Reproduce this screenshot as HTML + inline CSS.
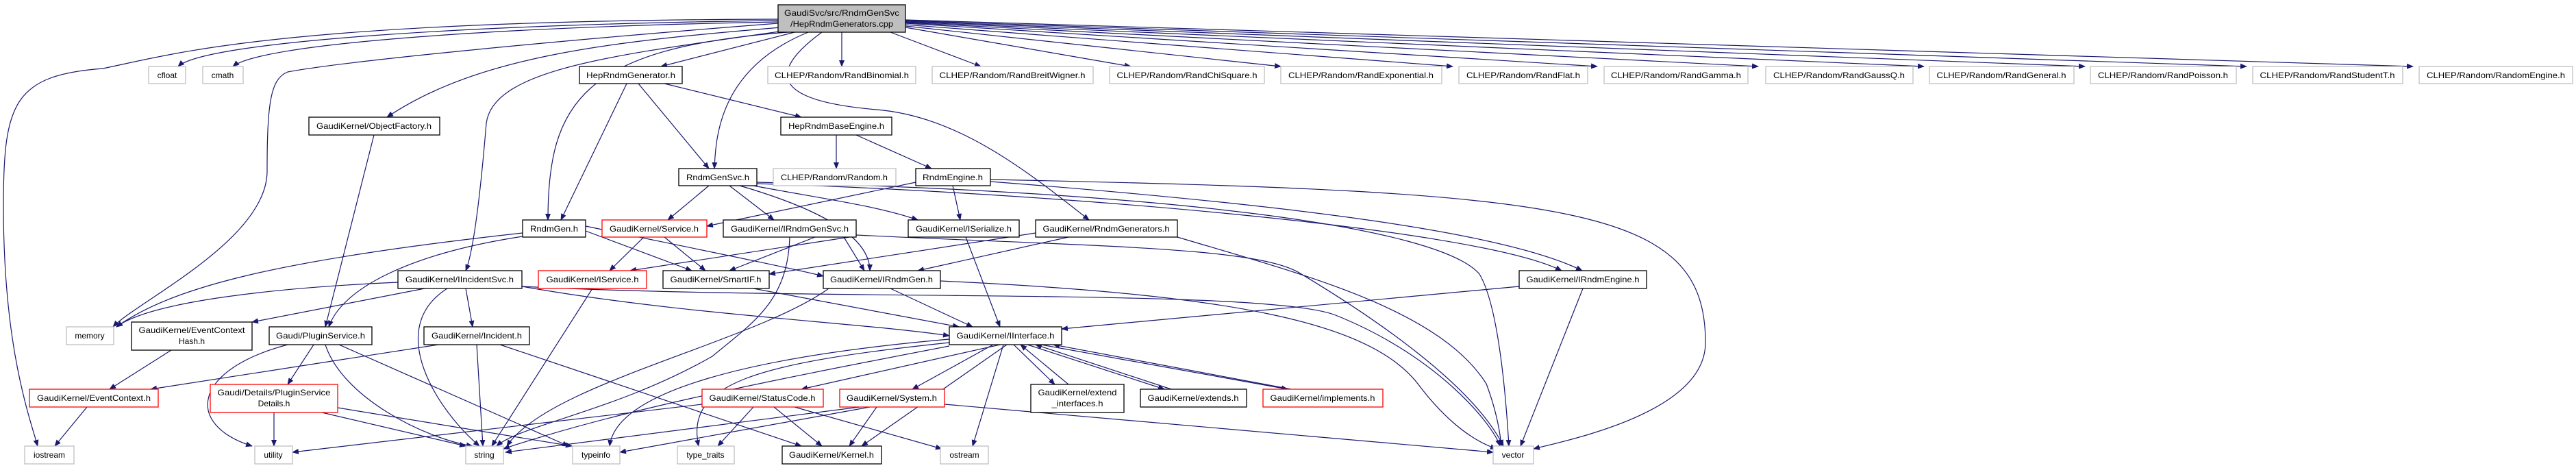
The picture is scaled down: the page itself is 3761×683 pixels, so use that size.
<!DOCTYPE html>
<html><head><meta charset="utf-8"><style>
html,body{margin:0;padding:0;background:#fff;}
svg{display:block;}
text{font-family:"Liberation Sans",sans-serif;font-size:12px;fill:#000;}
.e{fill:none;stroke:#191970;stroke-width:1.2;}
.g{fill:#fff;stroke:#bfbfbf;stroke-width:1.3;}
.b{fill:#fff;stroke:#000;stroke-width:1.3;}
.r{fill:#fff;stroke:#ff0000;stroke-width:1.3;}
</style></head><body>
<svg width="3761" height="683" viewBox="0 0 3761 683" xmlns="http://www.w3.org/2000/svg">
<defs><marker id="a" markerWidth="10" markerHeight="8" refX="9" refY="4" orient="auto" markerUnits="userSpaceOnUse"><path d="M0,0 L10,4 L0,8 z" fill="#191970"/></marker></defs>
<g class="e" marker-end="url(#a)">
<path d="M1136 28 C400 30,250 80,150 100 C20 110,5 150,5 300 C5 500,40 600,55 651"/>
<path d="M1136 30 C700 35,300 60,260 97"/>
<path d="M1136 32 C700 40,380 65,340 97"/>
<path d="M1136 34 C800 60,500 90,420 105 C395 115,390 150,390 250 C390 350,200 440,165 477"/>
<path d="M1140 40 C900 60,700 80,565 171"/>
<path d="M1160 47 L965 97"/>
<path d="M1145 45 C900 80,720 100,710 180 C700 300,690 370,680 395"/>
<path d="M1150 47 C850 70,800 150,800 321"/>
<path d="M1180 47 C1050 100,1045 200,1043 246"/>
<path d="M1229 47 L1229 97"/>
<path d="M1300 47 L1432 97"/>
<path d="M1322 40 L1651 97"/>
<path d="M1322 38 L1870 97"/>
<path d="M1322 36 L2121 97"/>
<path d="M1322 34 L2332 97"/>
<path d="M1322 33 L2567 97"/>
<path d="M1322 32 L2809 97"/>
<path d="M1322 31 L3044 97"/>
<path d="M1322 30 L3280 97"/>
<path d="M1322 29 L3523 97"/>
<path d="M1200 47 C1100 120,1160 150,1280 160 C1400 170,1500 250,1590 321"/>
<path d="M1446 262 C2300 280,2490 300,2490 500 C2490 600,2300 640,2239 655"/>
<path d="M915 122 L819 321"/>
<path d="M932 122 L1035 246"/>
<path d="M970 122 L1170 171"/>
<path d="M1221 197 L1221 246"/>
<path d="M1250 197 L1360 246"/>
<path d="M1035 271 L975 321"/>
<path d="M1065 271 L1130 321"/>
<path d="M1100 271 C1200 290,1280 300,1340 321"/>
<path d="M1080 271 C1180 300,1270 340,1270 395"/>
<path d="M1105 268 C1500 280,2150 330,2280 395"/>
<path d="M1105 266 C1700 280,2100 330,2160 400 C2190 450,2200 600,2203 651"/>
<path d="M1337 266 L1032 330"/>
<path d="M1391 271 L1402 321"/>
<path d="M1446 265 C1900 300,2200 340,2310 395"/>
<path d="M763 340 C400 380,250 420,170 477"/>
<path d="M855 337 L1010 395"/>
<path d="M855 330 C1000 360,1150 390,1202 403"/>
<path d="M763 345 C600 370,500 420,480 477"/>
<path d="M940 346 L890 395"/>
<path d="M970 346 L1030 395"/>
<path d="M1240 346 L920 395"/>
<path d="M1190 346 L1065 395"/>
<path d="M1232 346 L1262 395"/>
<path d="M1153 346 C1150 440,1100 470,1040 520 C900 600,760 620,725 651"/>
<path d="M1250 343 C1600 360,1840 360,1900 400 C2000 460,2150 560,2195 651"/>
<path d="M1512 340 L1123 400"/>
<path d="M1560 346 L1340 395"/>
<path d="M1719 346 C1900 400,2100 450,2170 560 C2185 600,2190 630,2192 651"/>
<path d="M1410 346 L1460 477"/>
<path d="M1300 421 L1420 477"/>
<path d="M1373 410 C1800 430,2000 470,2070 560 C2100 600,2140 640,2185 655"/>
<path d="M1210 421 C1100 500,800 560,740 651"/>
<path d="M2218 418 L1550 480"/>
<path d="M2311 421 L2220 651"/>
<path d="M581 412 C400 420,220 440,170 477"/>
<path d="M620 421 L368 470"/>
<path d="M680 421 L690 477"/>
<path d="M653 421 C560 480,640 600,700 651"/>
<path d="M762 418 C1000 460,1250 470,1386 490"/>
<path d="M762 418 C1200 440,1850 420,1950 460 C2100 520,2180 620,2190 651"/>
<path d="M865 421 L718 651"/>
<path d="M1100 421 L1400 477"/>
<path d="M546 197 L475 477"/>
<path d="M250 511 L160 568"/>
<path d="M420 503 C280 540,270 620,368 651"/>
<path d="M458 503 L420 561"/>
<path d="M475 503 C500 580,620 640,690 651"/>
<path d="M495 503 L830 651"/>
<path d="M400 602 L400 651"/>
<path d="M470 602 L680 651"/>
<path d="M493 595 L835 651"/>
<path d="M640 503 L220 568"/>
<path d="M696 503 L705 651"/>
<path d="M730 503 L1170 651"/>
<path d="M127 594 L80 651"/>
<path d="M1460 503 L1170 568"/>
<path d="M1450 503 L1332 568"/>
<path d="M1480 503 L1540 561"/>
<path d="M1500 503 L1700 568"/>
<path d="M1520 503 L1880 568"/>
<path d="M1470 503 L1258 651"/>
<path d="M1386 495 C1100 520,900 570,890 651"/>
<path d="M1386 500 C1100 530,1000 560,1020 651"/>
<path d="M1386 505 C1100 560,900 600,735 655"/>
<path d="M1465 503 L1420 651"/>
<path d="M1560 561 L1490 503"/>
<path d="M1710 568 L1512 503"/>
<path d="M1885 568 L1538 503"/>
<path d="M1025 590 L427 660"/>
<path d="M1100 594 L1048 651"/>
<path d="M1130 594 L1200 651"/>
<path d="M1160 594 L1375 655"/>
<path d="M1255 594 L738 660"/>
<path d="M1270 594 L905 660"/>
<path d="M1280 594 L1240 651"/>
<path d="M1379 590 L2180 660"/>
</g>
<g>
<rect x="1136" y="7" width="186" height="40" fill="#bfbfbf" stroke="#000" stroke-width="1.3"/>
<text x="1229" y="23" text-anchor="middle" textLength="168" lengthAdjust="spacingAndGlyphs">GaudiSvc/src/RndmGenSvc</text>
<text x="1229" y="39" text-anchor="middle" textLength="150" lengthAdjust="spacingAndGlyphs">/HepRndmGenerators.cpp</text>
</g>
<g>
<rect class="g" x="217" y="97" width="54" height="25"/><text x="244" y="114" text-anchor="middle">cfloat</text>
<rect class="g" x="296" y="97" width="59" height="25"/><text x="325" y="114" text-anchor="middle">cmath</text>
<rect class="b" x="846" y="97" width="150" height="25"/><text x="921" y="114" text-anchor="middle" textLength="130" lengthAdjust="spacingAndGlyphs">HepRndmGenerator.h</text>
<rect class="g" x="1121" y="97" width="216" height="25"/><text x="1229" y="114" text-anchor="middle" textLength="196" lengthAdjust="spacingAndGlyphs">CLHEP/Random/RandBinomial.h</text>
<rect class="g" x="1361" y="97" width="235" height="25"/><text x="1478" y="114" text-anchor="middle" textLength="213" lengthAdjust="spacingAndGlyphs">CLHEP/Random/RandBreitWigner.h</text>
<rect class="g" x="1620" y="97" width="226" height="25"/><text x="1733" y="114" text-anchor="middle" textLength="205" lengthAdjust="spacingAndGlyphs">CLHEP/Random/RandChiSquare.h</text>
<rect class="g" x="1870" y="97" width="235" height="25"/><text x="1987" y="114" text-anchor="middle" textLength="212" lengthAdjust="spacingAndGlyphs">CLHEP/Random/RandExponential.h</text>
<rect class="g" x="2130" y="97" width="188" height="25"/><text x="2224" y="114" text-anchor="middle" textLength="166" lengthAdjust="spacingAndGlyphs">CLHEP/Random/RandFlat.h</text>
<rect class="g" x="2342" y="97" width="210" height="25"/><text x="2447" y="114" text-anchor="middle" textLength="190" lengthAdjust="spacingAndGlyphs">CLHEP/Random/RandGamma.h</text>
<rect class="g" x="2578" y="97" width="215" height="25"/><text x="2685" y="114" text-anchor="middle" textLength="192" lengthAdjust="spacingAndGlyphs">CLHEP/Random/RandGaussQ.h</text>
<rect class="g" x="2817" y="97" width="211" height="25"/><text x="2922" y="114" text-anchor="middle" textLength="189" lengthAdjust="spacingAndGlyphs">CLHEP/Random/RandGeneral.h</text>
<rect class="g" x="3052" y="97" width="213" height="25"/><text x="3158" y="114" text-anchor="middle" textLength="190" lengthAdjust="spacingAndGlyphs">CLHEP/Random/RandPoisson.h</text>
<rect class="g" x="3289" y="97" width="219" height="25"/><text x="3398" y="114" text-anchor="middle" textLength="197" lengthAdjust="spacingAndGlyphs">CLHEP/Random/RandStudentT.h</text>
<rect class="g" x="3532" y="97" width="224" height="25"/><text x="3644" y="114" text-anchor="middle" textLength="202" lengthAdjust="spacingAndGlyphs">CLHEP/Random/RandomEngine.h</text>
<rect class="b" x="451" y="171" width="191" height="26"/><text x="546" y="188" text-anchor="middle" textLength="168" lengthAdjust="spacingAndGlyphs">GaudiKernel/ObjectFactory.h</text>
<rect class="b" x="1140" y="171" width="162" height="26"/><text x="1221" y="188" text-anchor="middle" textLength="140" lengthAdjust="spacingAndGlyphs">HepRndmBaseEngine.h</text>
<rect class="b" x="991" y="246" width="114" height="25"/><text x="1048" y="263" text-anchor="middle" textLength="92" lengthAdjust="spacingAndGlyphs">RndmGenSvc.h</text>
<rect class="g" x="1129" y="246" width="179" height="25"/><text x="1218" y="263" text-anchor="middle" textLength="156" lengthAdjust="spacingAndGlyphs">CLHEP/Random/Random.h</text>
<rect class="b" x="1337" y="246" width="109" height="25"/><text x="1391" y="263" text-anchor="middle" textLength="88" lengthAdjust="spacingAndGlyphs">RndmEngine.h</text>
<rect class="b" x="763" y="321" width="92" height="25"/><text x="809" y="338" text-anchor="middle" textLength="70" lengthAdjust="spacingAndGlyphs">RndmGen.h</text>
<rect class="r" x="879" y="321" width="153" height="25"/><text x="955" y="338" text-anchor="middle" textLength="130" lengthAdjust="spacingAndGlyphs">GaudiKernel/Service.h</text>
<rect class="b" x="1056" y="321" width="194" height="25"/><text x="1153" y="338" text-anchor="middle" textLength="172" lengthAdjust="spacingAndGlyphs">GaudiKernel/IRndmGenSvc.h</text>
<rect class="b" x="1326" y="321" width="162" height="25"/><text x="1407" y="338" text-anchor="middle" textLength="140" lengthAdjust="spacingAndGlyphs">GaudiKernel/ISerialize.h</text>
<rect class="b" x="1512" y="321" width="207" height="25"/><text x="1615" y="338" text-anchor="middle" textLength="185" lengthAdjust="spacingAndGlyphs">GaudiKernel/RndmGenerators.h</text>
<rect class="b" x="581" y="395" width="181" height="26"/><text x="671" y="412" text-anchor="middle" textLength="158" lengthAdjust="spacingAndGlyphs">GaudiKernel/IIncidentSvc.h</text>
<rect class="r" x="786" y="395" width="158" height="26"/><text x="865" y="412" text-anchor="middle" textLength="135" lengthAdjust="spacingAndGlyphs">GaudiKernel/IService.h</text>
<rect class="b" x="968" y="395" width="155" height="26"/><text x="1045" y="412" text-anchor="middle" textLength="133" lengthAdjust="spacingAndGlyphs">GaudiKernel/SmartIF.h</text>
<rect class="b" x="1202" y="395" width="171" height="26"/><text x="1287" y="412" text-anchor="middle" textLength="150" lengthAdjust="spacingAndGlyphs">GaudiKernel/IRndmGen.h</text>
<rect class="b" x="2218" y="395" width="186" height="26"/><text x="2311" y="412" text-anchor="middle" textLength="165" lengthAdjust="spacingAndGlyphs">GaudiKernel/IRndmEngine.h</text>
<rect class="g" x="97" y="477" width="69" height="26"/><text x="131" y="494" text-anchor="middle">memory</text>
<rect class="b" x="192" y="470" width="176" height="41"/><text x="280" y="486" text-anchor="middle" textLength="155" lengthAdjust="spacingAndGlyphs">GaudiKernel/EventContext</text><text x="280" y="502" text-anchor="middle">Hash.h</text>
<rect class="b" x="393" y="477" width="150" height="26"/><text x="468" y="494" text-anchor="middle" textLength="130" lengthAdjust="spacingAndGlyphs">Gaudi/PluginService.h</text>
<rect class="b" x="619" y="477" width="154" height="26"/><text x="696" y="494" text-anchor="middle" textLength="132" lengthAdjust="spacingAndGlyphs">GaudiKernel/Incident.h</text>
<rect class="b" x="1386" y="477" width="164" height="26"/><text x="1468" y="494" text-anchor="middle" textLength="143" lengthAdjust="spacingAndGlyphs">GaudiKernel/IInterface.h</text>
<rect class="r" x="43" y="568" width="188" height="26"/><text x="137" y="585" text-anchor="middle" textLength="166" lengthAdjust="spacingAndGlyphs">GaudiKernel/EventContext.h</text>
<rect class="r" x="307" y="561" width="186" height="41"/><text x="400" y="577" text-anchor="middle" textLength="165" lengthAdjust="spacingAndGlyphs">Gaudi/Details/PluginService</text><text x="400" y="593" text-anchor="middle">Details.h</text>
<rect class="r" x="1025" y="568" width="177" height="26"/><text x="1113" y="585" text-anchor="middle" textLength="155" lengthAdjust="spacingAndGlyphs">GaudiKernel/StatusCode.h</text>
<rect class="r" x="1226" y="568" width="153" height="26"/><text x="1302" y="585" text-anchor="middle" textLength="132" lengthAdjust="spacingAndGlyphs">GaudiKernel/System.h</text>
<rect class="b" x="1505" y="561" width="136" height="41"/><text x="1573" y="577" text-anchor="middle" textLength="115" lengthAdjust="spacingAndGlyphs">GaudiKernel/extend</text><text x="1573" y="593" text-anchor="middle" textLength="75" lengthAdjust="spacingAndGlyphs">_interfaces.h</text>
<rect class="b" x="1665" y="568" width="155" height="26"/><text x="1742" y="585" text-anchor="middle" textLength="133" lengthAdjust="spacingAndGlyphs">GaudiKernel/extends.h</text>
<rect class="r" x="1844" y="568" width="175" height="26"/><text x="1931" y="585" text-anchor="middle" textLength="153" lengthAdjust="spacingAndGlyphs">GaudiKernel/implements.h</text>
<rect class="g" x="36" y="651" width="72" height="26"/><text x="72" y="668" text-anchor="middle">iostream</text>
<rect class="g" x="372" y="651" width="55" height="26"/><text x="399" y="668" text-anchor="middle">utility</text>
<rect class="g" x="680" y="651" width="55" height="26"/><text x="707" y="668" text-anchor="middle">string</text>
<rect class="g" x="836" y="651" width="69" height="26"/><text x="870" y="668" text-anchor="middle">typeinfo</text>
<rect class="g" x="989" y="651" width="83" height="26"/><text x="1030" y="668" text-anchor="middle">type_traits</text>
<rect class="b" x="1142" y="651" width="145" height="26"/><text x="1214" y="668" text-anchor="middle" textLength="124" lengthAdjust="spacingAndGlyphs">GaudiKernel/Kernel.h</text>
<rect class="g" x="1373" y="651" width="70" height="26"/><text x="1408" y="668" text-anchor="middle">ostream</text>
<rect class="g" x="2180" y="651" width="59" height="26"/><text x="2209" y="668" text-anchor="middle">vector</text>
</g>
</svg>
</body></html>
